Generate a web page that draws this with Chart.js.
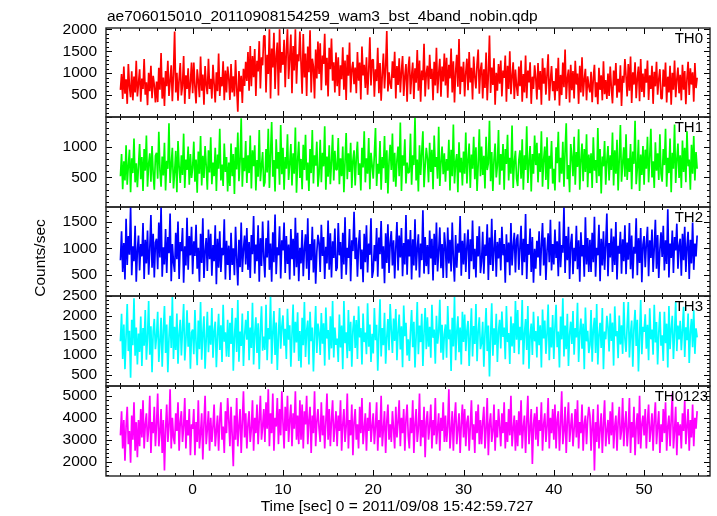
<!DOCTYPE html>
<html><head><meta charset="utf-8">
<script src="https://cdn.jsdelivr.net/npm/chart.js@4.4.1/dist/chart.umd.min.js"></script>
<style>
html,body{margin:0;padding:0;background:#fff;}
#wrap{position:relative;width:717px;height:516px;overflow:hidden;}
#wrap canvas{position:absolute;left:0;top:0;}
</style></head><body><div id="wrap"></div>
<script>
// ---- data ----
const T0 = -8, DT = 0.125;   // first sample time and sampling step (sec)
const titleText = 'ae706015010_20110908154259_wam3_bst_4band_nobin.qdp';
const xTitle = 'Time [sec] 0 = 2011/09/08 15:42:59.727';
const yTitle = 'Counts/sec';
const seriesNames = ['TH0', 'TH1', 'TH2', 'TH3', 'TH0123'];
const xTickVals = [0, 10, 20, 30, 40, 50];
const xRange = [-9.6, 57.3];
const yRanges = [[0, 2030], [20, 1480], [113, 1770], [210, 2505], [1350, 5445]];
const yTickVals = [[500, 1000, 1500, 2000], [500, 1000], [500, 1000, 1500], [500, 1000, 1500, 2000, 2500], [2000, 3000, 4000, 5000]];

const th0 = [
 620, 980, 410,1150, 530, 860, 300,1210, 690, 450,1040, 380, 920, 560,1280, 470,
 760,1090, 350, 880, 640,1320, 510, 790, 270,1010, 590,1170, 430, 940, 720, 330,
 810, 340,1120, 620,1460, 420, 900, 250,1050, 700,1280, 480, 830,1180, 360, 990,
1950, 560,1010, 370, 860,1230, 490, 720,1390, 300, 950, 640,1110, 410, 780,1240,
 540,1240, 690, 310,1090, 820, 450,1380, 600, 970, 280,1160, 730, 520,1330, 640,
 870, 420,1190, 760, 330,1020, 590,1450, 480, 910, 700,1270, 380,1060, 560,1150,
 880, 390,1210, 560, 930, 470,1300, 660, 120,1050, 580, 940, 320,1100, 710,1260,
 820,1480, 600,1620, 700,1390, 910,1550, 480,1280,1040,1730, 650,1360,1180,1850,
1850, 560,1420, 980,2000, 420,1560,1130,1920, 640,1370,1700, 490,2000,1010,1480,
1190,1760, 680,1500,2000, 870,1340,1880, 540,1620,1060,2000, 760,1430,1270,1950,
1240, 530,1890, 900,1450, 480,1610,1020,1980, 560,1330,1150, 420,1540, 880,1720,
 980,1680, 610,1400,1210,1900, 720,1350, 470,1580,1090,1790, 830,1250, 560,1470,
 700,1360, 480,1180, 860,1590, 620,1290, 390,1420, 940,1700, 560,1080,1260, 750,
1130, 540,1480, 830,1240, 400,1610, 950,1190, 660,1360, 510,1050,1820, 720,1300,
1310, 460,1090, 820,1580, 540,1230, 370, 970,1450, 650,1130,1960, 580,1020, 760,
 640,1270, 890,1490, 420,1160, 730,1340, 560,1040,1390, 480, 920,1210, 350,1100,
1380, 520, 940,1240, 410,1110, 780,1530, 600,1290, 350,1060, 840,1670, 470, 990,
1170, 630,1420, 870,1100, 380,1260, 720,1580, 540, 990,1330, 460,1150, 810,1450,
 720,1350, 440,1190, 880,1560, 560,1270, 330,1020,1420, 690,1780, 520,1150, 800,
1260, 470,1010,1330, 610,1480, 790,1120, 400,1380, 920, 650,1200,1540, 530,1070,
1240, 420,1090, 660,1470, 380, 960,1860, 550,1130, 730,1340, 280,1010, 600,1210,
 760,1290, 470,1060, 890,1400, 350,1170, 640,1500, 520, 930,1250, 410,1080, 700,
 480,1150, 700,1290, 350, 980, 560,1400, 430,1060, 790,1250, 300, 920, 640,1180,
 890, 400,1230, 620,1050, 280,1340, 760,1120, 510, 970,1430, 370, 830,1160, 590,
 820, 380,1110, 590,1350, 260, 960, 500,1240, 680,1540, 410, 880,1080, 330,1190,
 610,1050, 420,1280, 740, 990, 300,1170, 560,1360, 470, 860,1100, 380, 930, 700,
 560,1030, 340, 880,1190, 450, 790, 290,1120, 620, 950, 380,1270, 520, 840, 410,
 990, 480,1150, 660, 310,1060, 720,1230, 440, 870, 560,1180, 250, 940, 780,1320,
 930, 470,1210, 600,1380, 320,1020, 740,1250, 430, 880,1150, 360,1320, 570, 990,
 450,1100, 780,1290, 390, 950, 640,1170, 300,1030, 700,1260, 510, 860,1090, 420,
 420,1080, 690,1240, 330, 920, 560,1170, 280,1010, 620,1290, 450, 860,1130, 540,
 960, 380,1190, 620,1050, 290, 880,1260, 500,1110, 740,1020, 350,1230, 660, 900
];
const th1 = [
 520, 880, 310, 760, 450,1020, 380, 690, 950, 260, 810, 570,1130, 420, 730, 340,
 690,1040, 470, 830, 280, 960, 610,1180, 350, 720, 890, 430,1010, 560, 300, 850,
 900, 480,1240, 620, 350, 840, 530,1060, 290, 770, 640,1380, 410, 700, 980, 320,
 580, 930, 260,1090, 670, 410, 860, 540,1210, 330, 790, 620,1000, 380, 880, 490,
 660,1080, 430, 790, 250, 920, 560,1170, 370, 850, 490,1010, 690, 300, 940, 580,
1150, 390, 740, 520, 980, 280, 870, 640,1290, 450, 710, 360,1050, 590, 830, 270,
 740, 360,1050, 520, 880, 230, 990, 630,1230, 440, 760,1460, 350, 820, 600,1090,
 410, 860, 570,1180, 320, 940, 680,1020, 290, 780, 510,1270, 440, 690, 910, 350,
 420, 960, 580,1290, 330, 870,1400, 510, 780, 270,1120, 640, 910, 380,1350, 550,
 980, 300, 830, 640,1200, 460, 720,1040, 370, 890, 560,1310, 250, 770,1080, 490,
 800, 310,1030, 620,1190, 450, 740, 280, 960, 570,1270, 400, 860, 690,1080, 350,
 560,1110, 420, 900, 680,1330, 300, 840, 510,1020, 390, 760,1190, 450, 930, 620,
 630,1140, 390, 810, 520,1000, 260, 750,1220, 470, 890, 590,1060, 330, 780, 940,
 370, 820,1080, 540, 730, 290, 980, 660,1250, 420, 810, 560,1140, 310, 900, 700,
 480, 870,1300, 360, 720, 560,1090, 300, 830, 650,1170, 410, 940, 240, 760,1030,
 620,1210, 430, 900, 350, 780,1000, 520,1390, 280, 860, 690,1120, 400, 740, 570,
 590,1210, 380, 860, 700,1470, 450, 790, 270,1020, 540, 910,1250, 340, 680, 980,
 810, 420,1060, 590, 950, 310,1180, 670, 830, 480,1320, 360, 740,1000, 550, 890,
 430, 800, 610,1110, 290, 950, 520,1360, 400, 740, 880, 260,1070, 580, 820, 370,
 920, 560,1230, 400, 780,1050, 330, 870, 640,1160, 470, 990, 280, 710,1280, 520,
1000, 540, 850, 320,1160, 620, 730,1420, 440, 910, 280, 790,1050, 500, 690,1270,
 380, 880, 610,1040, 300, 960, 720,1190, 450, 820, 560,1340, 330, 750, 930, 480,
 360, 780, 940, 480,1120, 300, 860, 620,1330, 410, 750,1010, 270, 880, 560,1180,
 700,1060, 420, 890, 590,1250, 350, 790,1000, 460,1150, 310, 850, 640,1090, 400,
 640, 290, 990, 730,1240, 420, 820, 560,1080, 350, 930,1380, 470, 700, 260,1040,
 830, 520,1160, 380, 910, 670,1280, 300, 780,1050, 440, 960, 590,1200, 340, 870,
 570, 890, 330,1150, 610, 780, 410,1300, 520, 960, 240, 840, 680,1090, 380, 760,
1010, 450, 860, 620,1230, 370, 940, 560,1110, 290, 800,1350, 430, 720, 990, 510,
1200, 460, 810, 590,1040, 310, 920, 720,1420, 390, 650,1110, 280, 870, 540,1010,
 380, 950, 640,1160, 420, 830,1290, 500, 760, 330,1070, 610, 890, 460,1200, 560,
 430, 960, 700,1290, 350, 820, 570,1130, 260, 900, 640,1360, 410, 780,1050, 490,
 860, 330,1100, 590, 980, 420,1250, 680, 790, 300,1030, 560,1170, 450, 910, 640
];
const th2 = [
 780,1320, 560,1100, 420,1550, 690,1230, 880,1770, 500,1040, 760,1420, 380, 960,
1240, 590,1080, 850,1470, 430,1160, 720,1330, 510, 990,1620, 640,1270, 460,1110,
1180, 610,1480, 830,1770, 470,1020, 700,1360, 540,1210, 910,1650, 390,1080, 740,
 560,1290, 800,1500, 430,1120, 950,1380, 360,1040, 680,1570, 600,1230, 870,1400,
 520,1130, 860,1440, 620,1010, 380,1270, 730,1560, 450, 940,1190, 580,1350, 800,
1270, 490,1060, 760,1430, 330,1180, 640,1320, 560,1010, 870,1540, 420,1140, 690,
1050, 410,1290, 690,1000, 500,1400, 820, 310,1160, 650,1480, 560, 980,1240, 700,
1380, 600,1120, 450,1250, 890,1600, 530,1070, 760,1430, 380,1190, 670,1500, 840,
 460,1190, 830,1520, 600,1090, 380,1300, 740,1630, 520,1020, 870,1410, 440,1150,
 960,1480, 540,1230, 710,1070, 420,1360, 800,1180, 490,1570, 650,1290, 390,1010,
 720,1340, 480, 990,1260, 620,1560, 410,1080, 780,1400, 550,1170, 340, 930,1250,
1100, 560,1440, 860,1210, 430,1030, 720,1520, 600,1280, 460,1130, 820,1370, 580,
 640,1470, 870,1120, 430,1290, 700,1580, 510,1010, 820,1360, 390,1150, 950,1680,
 800,1200, 470,1050,1340, 610, 980, 370,1270, 740,1430, 550,1090, 880,1560, 450,
 580,1060, 760,1380, 470,1200, 890,1510, 620,1040, 350,1280, 730,1450, 540,1100,
1320, 680,1150, 440,1010,1490, 590,1240, 830,1380, 480,1100, 700,1620, 510,1170,
 850,1340, 420,1170, 680,1540, 590, 990,1260, 460,1090, 780,1710, 530,1210, 670,
1060, 520,1330, 810,1180, 400,1270, 690,1480, 570, 950,1390, 630,1080, 450,1300,
1030, 450,1390, 720,1160, 570,1480, 810, 380,1250, 640,1090, 920,1600, 490,1140,
 700,1280, 560,1040,1350, 430,1170, 760,1520, 610, 990, 460,1230, 850,1410, 540,
 760,1310, 530,1070, 860,1450, 410,1200, 690,1550, 580, 980,1340, 470,1120, 810,
1190, 590,1400, 870,1080, 360,1260, 740,1110, 500,1470, 680,1030,1290, 550,1160,
1260, 600,1020,1420, 500,1180, 740,1640, 430,1080, 880,1370, 560,1210, 360, 990,
 620,1140, 830,1320, 490,1050,1470, 680,1200, 410, 960,1280, 740,1530, 590,1080,
 700,1350, 820,1130, 480,1500, 650,1060, 920,1770, 540,1230, 780,1400, 430,1090,
1270, 520,1010, 760,1420, 610,1150, 380,1300, 850,1060, 470,1580, 700,1190, 560,
1160, 560,1290, 740,1590, 470,1010, 870,1440, 390,1180, 680,1320, 600,1050,1650,
 480,1100, 830,1370, 560,1220, 690,1490, 420,1050, 900,1310, 530,1170, 760,1430,
 520,1110, 790,1470, 610,1240, 440,1030, 900,1560, 500,1190, 730,1380, 370,1070,
1230, 650,1090,1400, 480,1150, 820,1350, 560,1010,1530, 620,1250, 450, 980,1300,
 840,1420, 590,1150, 710,1730, 460,1090, 820,1330, 540,1210, 960,1460, 620,1050,
1180, 490,1270, 780,1400, 560,1030,1310, 430,1160, 720,1480, 600,1090, 850,1240
];
const th3 = [
1350,2050, 900,1780, 640,1500,2300,1100,1620, 420,1900,1250,2450, 980,1700, 760,
1550,1080,1980, 720,1690,1240,2150, 880,1460,2380,1010,1730, 560,1600,1920,1150,
1480,2100, 820,1350,1950, 700,1600,2250,1050,1780, 560,1420,2000,1180,2480, 900,
1720,1130,2060, 780,1540,1900, 990,1660,2300, 860,1370,2140,1210,1820, 650,1580,
1650,1020,2150,1300, 740,1880,1150,2350, 880,1550,1990, 650,1400,2100,1070,1750,
1260,2200, 930,1610,1850, 690,1480,2050,1130,1760, 820,2280,1340,1580, 960,1900,
 950,1820,1280,2200, 600,1450,1950,1080,2400, 830,1600,1230,2060, 720,1500,1900,
1390,2120, 870,1700,1180,2330, 760,1540,1960,1050,1810, 640,1620,2240,1110,1470,
1130,2280, 870,1690,1400,2500, 780,1560,2120,1000,1830, 620,1470,2200,1160,1720,
2010,1240,1670, 900,2180,1390,1760, 700,1530,2290,1060,1850,1320,2090, 850,1610,
 680,1950,1250,2350, 950,1620,1880, 760,2100,1350,1700, 580,1500,2250,1050,1800,
1570,1000,2070,1290,1810, 730,2210,1420,1640, 880,1990,1170,2380, 940,1700,1260,
1420, 820,2030,1190,1750, 640,2380,1300,1580, 920,2150,1100,1850, 700,1650,2000,
1180,1890, 900,2240,1450,1690, 760,2060,1330,1570,1020,2320,1210,1780, 820,1540,
1040,2200,1380,1770, 600,1530,2420, 960,1690,1250,2080, 780,1450,1920,1120,2300,
1640,1050,1930,1360,2170, 870,1590,2030,1140,1730, 690,2260,1480,1820, 990,1400,
 850,1600,2150,1200,1850, 680,1480,2350,1020,1750,1330,2050, 720,1560,2200,1150,
1960,1210,1720, 930,2280,1440,1650, 780,2000,1290,1580,2410,1060,1770, 880,1530,
1780, 930,2250,1400,1650, 590,1950,1220,2480, 870,1580,1990,1070,1700, 760,2100,
1330,2030,1100,1620,1870, 720,1500,2190, 960,1740,1280,2300, 840,1600,1960,1150,
1300,1850, 700,1550,2200,1100,1750, 450,1480,2320, 980,1680,1260,2050, 820,1600,
1900,1170,2110,1460,1700, 890,2250,1330,1560, 770,1980,1220,1810,1050,2380,1390,
2150,1020,1720,1380,2400, 760,1550,1920,1130,2250, 650,1490,1800,1000,2100,1350,
1610, 940,1990,1250,1760, 680,2160,1420,1880,1030,1540,2290, 870,1710,1190,2020,
 900,1700,2280,1200,1600, 680,1980,1400,2450, 960,1750,1150,2050, 720,1530,1850,
1280,2120,1010,1690,1450,2330, 820,1570,1930,1160,1800, 640,2210,1350,1620,1050,
1250,2150, 830,1650,1950,1050,2300, 760,1500,1820,1180,2200, 640,1600,1400,2000,
1720,1090,2060,1360,1830, 730,2240,1480,1610, 920,2010,1270,1760,1030,2350,1420,
1080,1750,2350, 940,1550,1880, 700,1680,2150,1230,1900, 580,1450,2400,1020,1720,
1590,2040,1160,1770, 870,2190,1400,1650,1010,2280,1320,1840, 760,1560,2100,1240,
1500, 850,2100,1300,1800, 680,2250,1150,1650,2000, 900,1550,2350,1100,1750,1400,
1870,1120,1640,2230, 950,1710,1380,2060, 800,1590,1920,1200,2140,1030,1680,1450
];
const th0123 = [
3200,4300,2600,3900,2050,3600,4500,2800,3400,1950,4100,3000,4700,2500,3800,2200,
3900,2700,4400,3100,4800,2600,3700,4200,2900,3500,5000,2400,3800,3300,4500,2700,
3700,5100,2700,3300,4400,2400,3900,1600,3500,4600,2900,3600,5300,2600,4000,3100,
2800,4200,3400,4700,2500,3800,4300,2900,3600,4900,2600,3900,3200,4400,2300,3700,
3500,4400,2300,3800,2900,4800,2600,3300,4200,2100,3700,5000,2800,3500,4300,2500,
4000,2900,3600,4600,2700,3400,4100,2500,3900,4700,3000,3600,2400,4300,3300,4900,
3900,2700,4500,3200,1800,4100,3000,4900,2700,3600,4400,2400,3800,5200,3100,4200,
2600,3700,4300,2900,3500,4800,2500,4000,3300,4600,2800,3900,5000,3000,3600,4400,
2900,4700,3500,5300,2700,4200,3300,5100,2500,4000,3600,4900,2800,4400,3200,5200,
3800,2600,4500,3400,5000,2900,3900,4600,2700,4200,3500,5200,3000,4100,2800,4800,
3000,4600,2600,4300,3700,5000,2800,3900,4500,2400,4100,3300,5200,2700,3800,4400,
3500,2900,4700,3200,4100,2600,3800,5100,3000,4400,2700,3900,4800,2900,3600,4300,
2700,4100,3400,4800,2500,3700,4400,2900,3600,5100,2600,3900,3200,4600,2300,3800,
4400,3000,3700,2600,4500,3300,4900,2800,3500,4200,2500,4000,3400,4700,2900,3600,
4200,2800,3600,4700,2500,3900,3100,5000,2700,3500,4300,2400,3800,4600,3000,3700,
2900,4300,3500,2600,4500,3100,3800,4800,2700,4000,3300,4400,2500,3900,4600,3200,
2600,4000,3300,4800,2400,3700,4400,2900,3500,5100,2700,3900,3100,4500,2200,3800,
4300,3000,3600,4600,2600,3900,3200,4900,2800,3500,4200,2500,4000,3400,4700,2900,
4100,2900,3600,5300,2600,3400,4300,2500,3900,4700,2800,3500,4200,2400,3700,4600,
3100,4400,2700,3800,4100,2500,3600,4800,3000,3700,2400,4300,3300,4600,2800,3900,
2800,3800,4500,2600,3500,4900,2300,3700,4200,2900,3400,4600,2500,3900,3100,4400,
3600,2700,4200,3300,4700,2600,3800,2900,4400,3200,5000,2700,3500,4100,2500,3900,
2700,4300,3200,4800,2600,3600,4100,2400,3800,5000,2800,3500,4400,1900,3700,4200,
3000,4500,2700,3900,3400,4700,2500,3700,4200,2900,3600,4900,2600,4000,3300,4400,
3000,4600,2600,3900,4300,2500,3700,5200,2800,3400,4500,2400,3800,4700,2900,3600,
4200,2700,3500,4400,3100,4800,2600,3800,3300,4600,2500,3700,4100,2800,3900,4500,
4100,2500,3600,4400,1600,3800,2900,4600,2600,3500,4200,2400,3700,4800,2700,3400,
3900,2800,4300,3200,4700,2600,3600,4100,2500,3800,4500,3000,3400,4900,2700,3700,
4300,2700,3500,4900,2400,3800,3100,4500,2300,3600,4200,2800,5000,2600,3700,4100,
3200,4400,2600,3800,4600,2900,3500,4200,2500,3900,4700,2800,3600,4300,2400,3700,
2900,4400,3300,4700,2500,3600,4100,2700,3900,5100,2600,3400,4500,2300,3800,3200,
3700,2600,4200,3400,4800,2800,3600,4400,2500,3900,3100,4600,2700,4000,3500,4300
];
const seriesValues = [th0, th1, th2, th3, th0123];

// ---- styles / layout ----
const colors = ['#ff0000', '#00ff00', '#0000ff', '#00ffff', '#ff00ff'];
const W = 717, H = 516;
const panelEdges = [28, 117, 207, 296, 386, 476];
const plotLeft = 106, plotRight = 710;
const labelRight = [703, 703, 703, 703, 708];
const xMinorStep = 2, xMajorStep = 10;
const yMinorSteps = [100, 100, 100, 100, 200];
const yMajorSteps = [500, 500, 500, 500, 1000];
const FONT = '"Liberation Sans", Arial, Helvetica, sans-serif';

Chart.defaults.font.family = FONT;
Chart.defaults.font.size = 15.5;
Chart.defaults.color = '#000';

const framePlugin = {
  id: 'frame',
  afterDatasetsDraw(chart) {
    const o = chart.options.plugins.frame;
    const {ctx, chartArea: a} = chart;
    const xs = chart.scales.x, ys = chart.scales.y;
    ctx.save();
    ctx.strokeStyle = '#000';
    ctx.lineWidth = 1;
    ctx.beginPath();
    const eps = 1e-6;
    for (let v = Math.ceil(xs.min / xMinorStep) * xMinorStep; v <= xs.max + eps; v += xMinorStep) {
      const px = Math.round(xs.getPixelForValue(v)) + 0.5;
      const len = Math.abs(v / xMajorStep - Math.round(v / xMajorStep)) < eps ? 6 : 3;
      ctx.moveTo(px, a.top); ctx.lineTo(px, a.top + len);
      ctx.moveTo(px, a.bottom); ctx.lineTo(px, a.bottom - len);
    }
    const ms = o.minor, MS = o.major;
    for (let v = Math.ceil(ys.min / ms) * ms; v <= ys.max + eps; v += ms) {
      const py = Math.round(ys.getPixelForValue(v)) + 0.5;
      const len = Math.abs(v / MS - Math.round(v / MS)) < eps ? 6 : 3;
      ctx.moveTo(a.left, py); ctx.lineTo(a.left + len, py);
      ctx.moveTo(a.right, py); ctx.lineTo(a.right - len, py);
    }
    ctx.stroke();
    ctx.strokeStyle = '#222';
    ctx.lineWidth = 1.4;
    ctx.strokeRect(a.left, a.top, a.right - a.left, a.bottom - a.top);
    ctx.fillStyle = '#000';
    ctx.font = '15px ' + FONT;
    ctx.textAlign = 'right';
    ctx.textBaseline = 'alphabetic';
    ctx.fillText(o.label, o.labelX, a.top + 15);
    if (o.texts) {
      ctx.font = '15.5px ' + FONT;
      ctx.textAlign = 'left';
      ctx.fillText(titleText, 107, 20.5);
      ctx.textAlign = 'center';
      ctx.fillText(xTitle, 397, 510.5);
      ctx.save();
      ctx.translate(44.5, 258);
      ctx.rotate(-Math.PI / 2);
      ctx.textBaseline = 'alphabetic';
      ctx.fillText(yTitle, 0, 0);
      ctx.restore();
    }
    ctx.restore();
  }
};

const wrap = document.getElementById('wrap');
for (let i = 0; i < 5; i++) {
  const cv = document.createElement('canvas');
  cv.width = W; cv.height = H;
  cv.style.width = W + 'px'; cv.style.height = H + 'px';
  wrap.appendChild(cv);
  const last = i === 4;
  const pts = seriesValues[i].map((v, k) => ({x: T0 + k * DT, y: v}));
  new Chart(cv, {
    type: 'line',
    data: {datasets: [{
      label: seriesNames[i], data: pts,
      borderColor: colors[i], borderWidth: 1.7, borderJoinStyle: 'bevel',
      pointRadius: 0, tension: 0, fill: false
    }]},
    plugins: [framePlugin],
    options: {
      responsive: false, animation: false, devicePixelRatio: 1,
      events: [],
      layout: {padding: {left: 0, right: W - plotRight, top: panelEdges[i], bottom: last ? 0 : H - panelEdges[i + 1]}},
      plugins: {
        legend: {display: false}, tooltip: {enabled: false}, title: {display: false},
        frame: {label: seriesNames[i], labelX: labelRight[i], minor: yMinorSteps[i], major: yMajorSteps[i], texts: last}
      },
      scales: {
        x: {
          type: 'linear', min: xRange[0], max: xRange[1], display: last,
          grid: {display: false, drawTicks: false}, border: {display: false},
          ticks: {padding: 4, autoSkip: false, maxRotation: 0, includeBounds: false, callback: v => String(v)},
          afterBuildTicks: s => { s.ticks = xTickVals.map(v => ({value: v})); },
          afterFit: s => { if (last) s.height = H - panelEdges[5]; }
        },
        y: {
          type: 'linear', position: 'left', min: yRanges[i][0], max: yRanges[i][1],
          grid: {display: false, drawTicks: false}, border: {display: false},
          ticks: {padding: 9, autoSkip: false, includeBounds: false, callback: v => String(v)},
          afterBuildTicks: s => { s.ticks = yTickVals[i].map(v => ({value: v})); },
          afterFit: s => { s.width = plotLeft; }
        }
      }
    }
  });
}
</script>
</body></html>
